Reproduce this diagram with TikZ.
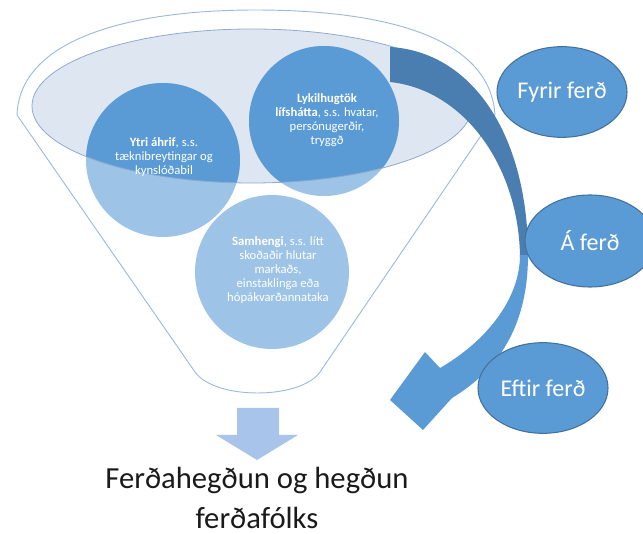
\documentclass[tikz,border=0pt]{standalone}
\usepackage{fontspec}
\setmainfont{Carlito}
\definecolor{cdark}{HTML}{5B9BD5}
\definecolor{clight}{HTML}{9DC3E6}
\definecolor{cell}{HTML}{DEE6F1}
\definecolor{cedge}{HTML}{41719C}
\definecolor{cline}{HTML}{9DBADD}
\definecolor{celline}{HTML}{8FAAD0}
\definecolor{carrowdark}{HTML}{4A7DB0}
\definecolor{cdown}{HTML}{A9C4EA}
\definecolor{ctext}{HTML}{1A1A1A}
\tikzset{
  smalltext/.style={text=white, align=center, font=\fontsize{9.5}{10.5}\selectfont},
  phase/.style={ellipse, draw=cedge, line width=0.8pt, fill=cdark, text=white,
    font=\fontsize{18}{20}\selectfont, inner sep=0pt, minimum width=97.5pt, minimum height=68pt},
  funnelline/.style={draw=cline, line width=0.7pt},
}
\usetikzlibrary{shapes.geometric}
\begin{document}
\begin{tikzpicture}[x=0.75pt,y=-0.75pt]
\useasboundingbox (0,0) rectangle (643,534);
% funnel outline
\draw[funnelline, line join=round]
  (195,372) -- (17,115)
  .. controls (20,35) and (140,10) .. (255,10)
  .. controls (380,10) and (490,35) .. (495,115)
  -- (320,372) .. controls (300,400) and (215,400) .. (195,372);
% inner ellipse
\fill[cell] (252,106) ellipse [x radius=220, y radius=77];
% circles, light
\fill[clight] (163,160) circle [radius=77];
\fill[clight] (324,121) circle [radius=75];
\fill[clight] (272,272) circle [radius=77];
% dark parts inside the ellipse
\begin{scope}
  \clip (252,106) ellipse [x radius=220, y radius=77];
  \fill[cdark] (163,160) circle [radius=77];
  \fill[cdark] (324,121) circle [radius=75];
\end{scope}
\draw[celline, line width=0.6pt] (252,106) ellipse [x radius=220, y radius=77];
% circle texts
\node[smalltext] (ytri) at (164,157) {\textbf{Ytri áhrif}, s.s.\\tæknibreytingar og\\kynslóðabil};
\node[smalltext] (lykil) at (327,120) {\textbf{Lykilhugtök}\\\textbf{lífshátta}, s.s. hvatar,\\persónugerðir,\\tryggð};
\node[smalltext] (samh) at (278,270) {\textbf{Samhengi}, s.s. lítt\\skoðaðir hlutar\\markaðs,\\einstaklinga eða\\hópákvarðannataka};
% curved arrow
\fill[carrowdark] (390,47) .. controls (475,52) and (530,140) .. (528,262)
  -- (520,262) .. controls (521,170) and (466,90) .. (390,82) -- cycle;
\fill[cdark] (528,255) .. controls (528,330) and (495,372) .. (452,398)
  -- (423,430) -- (390,400) -- (425,352) -- (440,368)
  .. controls (485,342) and (520,300) .. (520,255) -- cycle;
% phase ellipses
\node[phase] (fyrir) at (562,92) {Fyrir ferð};
\node[phase, minimum height=69pt] (afer) at (590,241) {Á ferð};
\node[phase] (eftir) at (543,388) {Eftir ferð};
% down arrow
\fill[cdown] (237,408) -- (279,408) -- (279,435) -- (298,435) -- (257,460)
  -- (216,435) -- (237,435) -- cycle;
% result text
\node[text=ctext, align=center, font=\fontsize{23}{29.5}\selectfont] (result) at (257,498)
  {Ferðahegðun og hegðun\\ferðafólks};
\end{tikzpicture}
\end{document}
